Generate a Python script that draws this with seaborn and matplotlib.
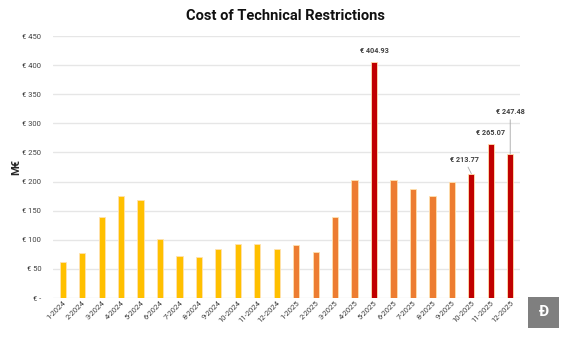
import matplotlib
matplotlib.use("Agg")
import matplotlib.pyplot as plt
import seaborn as sns
import pandas as pd
from matplotlib.patches import Rectangle

months = ["1-2024", "2-2024", "3-2024", "4-2024", "5-2024", "6-2024", "7-2024", "8-2024",
          "9-2024", "10-2024", "11-2024", "12-2024", "1-2025", "2-2025", "3-2025", "4-2025",
          "5-2025", "6-2025", "7-2025", "8-2025", "9-2025", "10-2025", "11-2025", "12-2025"]
values = [62, 77, 140, 175, 168, 102, 72, 70, 84, 93, 93, 84,
          91, 79, 140, 203, 404.93, 203, 188, 175, 199, 213.77, 265.07, 247.48]
groups = ["2024"] * 12 + ["2025"] * 4 + ["peak"] + ["2025"] * 4 + ["peak"] * 3
palette = {"2024": "#FFC000", "2025": "#ED7D31", "peak": "#C00000"}
yticks = [0, 50, 100, 150, 200, 250, 300, 350, 400, 450]
ytick_labels = ["€ -", "€ 50", "€ 100", "€ 150", "€ 200", "€ 250", "€ 300", "€ 350", "€ 400", "€ 450"]
labelled = {"5-2025": (0, 5), "10-2025": (-5, 7), "11-2025": (0, 5), "12-2025": (0, 27)}

df = pd.DataFrame({"month": months, "value": values, "group": groups})

sns.set_theme(style="white")
plt.rcParams["font.family"] = ["Roboto", "DejaVu Sans"]

fig = plt.figure(figsize=(5.67, 3.37), dpi=100)
ax = fig.add_axes([0.0935, 0.1157, 0.8235, 0.7773])

sns.barplot(data=df, x="month", y="value", hue="group", palette=palette, dodge=False,
            width=0.32, legend=False, ax=ax, edgecolor="#FFE2B0", linewidth=0.6, saturation=1)

ax.set_ylim(0, 450)
ax.set_xlim(-0.5, len(months) - 0.5)
ax.set_yticks(yticks)
ax.set_yticklabels(ytick_labels, fontsize=5.5, color="#404040")
ax.yaxis.grid(True, color="#E6E6E6", linewidth=1)
ax.set_axisbelow(True)
for s in ax.spines.values():
    s.set_visible(False)
ax.tick_params(axis="y", length=0, pad=8.5)
ax.tick_params(axis="x", length=0, pad=1)
ax.set_xticks(range(len(months)))
ax.set_xticklabels(months, rotation=45, ha="right", rotation_mode="anchor", fontsize=5.5, color="#404040")
ax.set_xlabel("")
ax.set_ylabel("M€", fontsize=8, fontweight="bold", labelpad=0.5)

for m, (dx, dy) in labelled.items():
    i = months.index(m)
    v = values[i]
    arrow = dict(arrowstyle="-", color="#A6A6A6", lw=0.6, shrinkA=0, shrinkB=0) if dy > 6 else None
    ax.annotate(f"€ {v:.2f}", xy=(i, v), xytext=(dx, dy), textcoords="offset points",
                ha="center", va="bottom", fontsize=5.2, fontweight="bold", color="#404040",
                arrowprops=arrow)

fig.text(0.503, 0.952, "Cost of Technical Restrictions", ha="center", va="center",
         fontsize=10.5, fontweight="bold", color="#111111")

# logo box
fig.patches.append(Rectangle((528 / 567, 1 - 328 / 337), 31 / 567, 31 / 337,
                             transform=fig.transFigure, facecolor="#7F7F7F", edgecolor="none"))
fig.text(543.5 / 567, 1 - 312.5 / 337, "Ð", ha="center", va="center", fontsize=11,
         fontweight="bold", color="white")

fig.savefig("out.png", dpi=100)
